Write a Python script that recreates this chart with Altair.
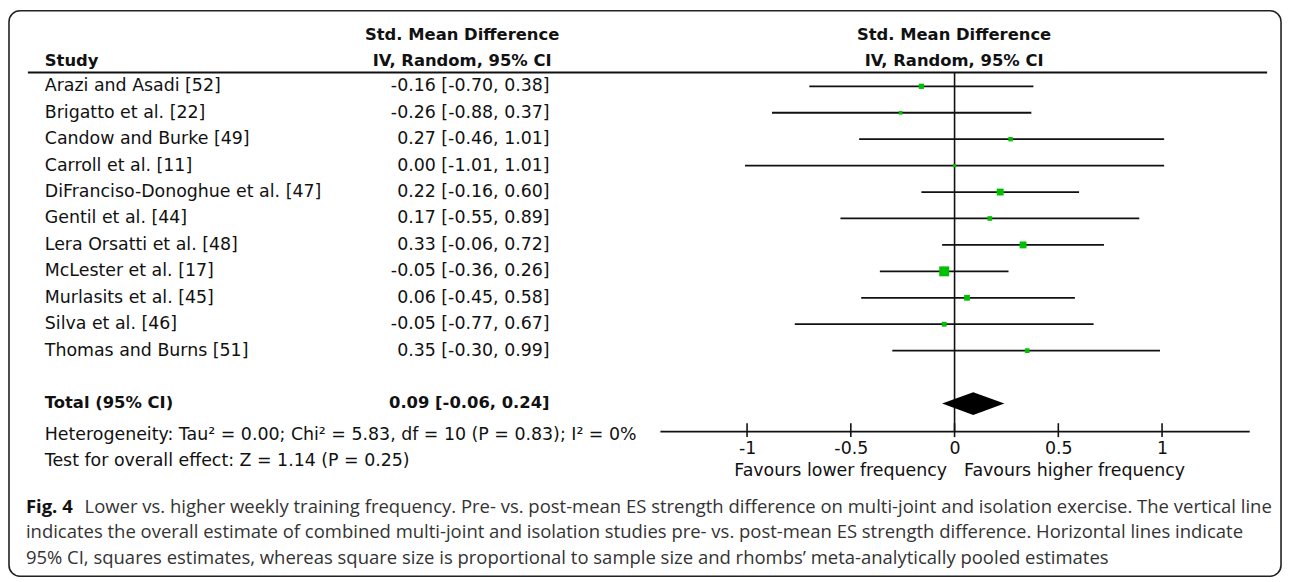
import altair as alt
import pandas as pd

# ---------------- data ----------------
studies = [
    "Arazi and Asadi [52]", "Brigatto et al. [22]", "Candow and Burke [49]",
    "Carroll et al. [11]", "DiFranciso-Donoghue et al. [47]", "Gentil et al. [44]",
    "Lera Orsatti et al. [48]", "McLester et al. [17]", "Murlasits et al. [45]",
    "Silva et al. [46]", "Thomas and Burns [51]",
]
smd = [-0.16, -0.26, 0.27, 0.00, 0.22, 0.17, 0.33, -0.05, 0.06, -0.05, 0.35]
ci_low = [-0.70, -0.88, -0.46, -1.01, -0.16, -0.55, -0.06, -0.36, -0.45, -0.77, -0.30]
ci_high = [0.38, 0.37, 1.01, 1.01, 0.60, 0.89, 0.72, 0.26, 0.58, 0.67, 0.99]
weights = [7.0, 3.5, 5.0, 2.5, 12.0, 5.5, 12.0, 25.0, 8.5, 6.0, 5.5]
total_est, total_low, total_high = 0.09, -0.06, 0.24
ticks = [-1, -0.5, 0, 0.5, 1]

het_text = "Heterogeneity: Tau\u00b2 = 0.00; Chi\u00b2 = 5.83, df = 10 (P = 0.83); I\u00b2 = 0%"
test_text = "Test for overall effect: Z = 1.14 (P = 0.25)"
caption_lines = [
    "Lower vs. higher weekly training frequency. Pre- vs. post-mean ES strength difference on multi-joint and isolation exercise. The vertical line",
    "indicates the overall estimate of combined multi-joint and isolation studies pre- vs. post-mean ES strength difference. Horizontal lines indicate",
    "95% CI, squares estimates, whereas square size is proportional to sample size and rhombs\u2019 meta-analytically pooled estimates",
]

# ---------------- tables ----------------
def fmt(v):
    return f"{v:.2f}"

df = pd.DataFrame({
    "study": studies,
    "est": smd,
    "lo": ci_low,
    "hi": ci_high,
    "w": weights,
    "row": list(range(len(studies))),
})
df["label"] = [f"{fmt(e)} [{fmt(l)}, {fmt(h)}]" for e, l, h in zip(smd, ci_low, ci_high)]

total_row = len(studies) + 1
half = 0.43
dia = pd.DataFrame({
    "x": [total_low, total_est, total_high],
    "y1": [total_row, total_row - half, total_row],
    "y2": [total_row, total_row + half, total_row],
})
tot = pd.DataFrame({"row": [total_row],
                    "study": ["Total (95% CI)"],
                    "label": [f"{fmt(total_est)} [{fmt(total_low)}, {fmt(total_high)}]"]})
null_df = pd.DataFrame({"v": [0]})
tick_df = pd.DataFrame({"t": ticks})
dummy = pd.DataFrame({"d": [0]})

# ---------------- scales ----------------
FONT = "DejaVu Sans"
INK = "#111111"
BODY = 17.5
XS = alt.Scale(domain=[-1.42, 1.42], range=[656, 1249], nice=False, zero=False)
YS = alt.Scale(domain=[0, 10], range=[77, 343], nice=False, zero=False)
XAXIS = alt.Axis(values=ticks, title=None, grid=False, ticks=False, tickSize=0,
                 domainColor=INK, domainWidth=1.8,
                 labelFont=FONT, labelFontSize=BODY, labelColor=INK,
                 labelPadding=17, labelBaseline="middle", labelFlush=False,
                 labelOverlap=False, labelExpr="'' + datum.value")


def xq(field):
    return alt.X(f"{field}:Q", scale=XS, axis=XAXIS)


def yq(field):
    return alt.Y(f"{field}:Q", scale=YS, axis=None)


def txt(s, x, y, align="left", bold=False, size=BODY, font=FONT, color=INK):
    return alt.Chart(dummy).mark_text(
        text=s, x=x, y=y, align=align, baseline="middle",
        font=font, fontSize=size, fontWeight="bold" if bold else "normal", color=color,
    )


# ---------------- layers ----------------
box = alt.Chart(dummy).mark_rect(
    fill="white", fillOpacity=0, stroke="#222222", strokeWidth=1.6, cornerRadius=11
).encode(x=alt.value(1), x2=alt.value(1281), y=alt.value(1), y2=alt.value(570))

header_line = alt.Chart(dummy).mark_rule(color=INK, strokeWidth=2).encode(
    x=alt.value(20), x2=alt.value(1267), y=alt.value(63))

ci = alt.Chart(df).mark_rule(color=INK, strokeWidth=1.8).encode(
    x=xq("lo"), x2="hi", y=yq("row"))

squares = alt.Chart(df).mark_square(filled=True, color="#00C000", opacity=1).encode(
    x=xq("est"), y=yq("row"),
    size=alt.Size("w:Q", scale=alt.Scale(domain=[0, 25], range=[0, 100]), legend=None))

null_line = alt.Chart(null_df).mark_rule(color=INK, strokeWidth=1.6).encode(
    x=xq("v"), y=alt.value(63), y2=alt.value(424))

tick_marks = alt.Chart(tick_df).mark_rule(color=INK, strokeWidth=1.6).encode(
    x=xq("t"), y=alt.value(416), y2=alt.value(430))

diamond = alt.Chart(dia).mark_area(color="black", orient="vertical").encode(
    x=xq("x"), y=yq("y1"), y2="y2")

study_txt = alt.Chart(df).mark_text(align="left", baseline="middle", font=FONT,
                                    fontSize=BODY, color=INK).encode(
    x=alt.value(37), y=yq("row"), text="study:N")
label_txt = alt.Chart(df).mark_text(align="right", baseline="middle", font=FONT,
                                    fontSize=BODY, color=INK).encode(
    x=alt.value(545), y=yq("row"), text="label:N")
tot_study = alt.Chart(tot).mark_text(align="left", baseline="middle", font=FONT,
                                     fontSize=16.5, fontWeight="bold", color=INK).encode(
    x=alt.value(37), y=yq("row"), text="study:N")
tot_label = alt.Chart(tot).mark_text(align="right", baseline="middle", font=FONT,
                                     fontSize=16.5, fontWeight="bold", color=INK).encode(
    x=alt.value(545), y=yq("row"), text="label:N")

CAP = "Open Sans"
CAPSIZE = 18.6
texts = [
    txt("Study", 37, 52, bold=True, size=16.5),
    txt("Std. Mean Difference", 457, 25, align="center", bold=True, size=16.5),
    txt("IV, Random, 95% CI", 457, 52, align="center", bold=True, size=16.5),
    txt("Std. Mean Difference", 952, 25, align="center", bold=True, size=16.5),
    txt("IV, Random, 95% CI", 952, 52, align="center", bold=True, size=16.5),
    txt(het_text, 37, 428),
    txt(test_text, 37, 454),
    txt("Favours lower frequency", 945, 464, align="right"),
    txt("Favours higher frequency", 962, 464, align="left"),
    txt("Fig. 4", 18, 500, bold=True, size=CAPSIZE, font=CAP, color="#111111"),
    txt(caption_lines[0], 77, 500, size=CAPSIZE, font=CAP, color="#333333"),
    txt(caption_lines[1], 18, 526, size=CAPSIZE, font=CAP, color="#333333"),
    txt(caption_lines[2], 18, 552, size=CAPSIZE, font=CAP, color="#333333"),
]

chart = alt.layer(
    box, header_line, null_line, tick_marks, ci, squares, diamond,
    study_txt, label_txt, tot_study, tot_label, *texts,
).properties(
    width=1282, height=424,
    background="white",
    padding={"left": 0, "top": 0, "right": 2, "bottom": 150},
    autosize=alt.AutoSizeParams(type="none"),
).configure_view(stroke=None, strokeWidth=0)

chart.save("out.html", embed_options={"renderer": "svg", "actions": False})
